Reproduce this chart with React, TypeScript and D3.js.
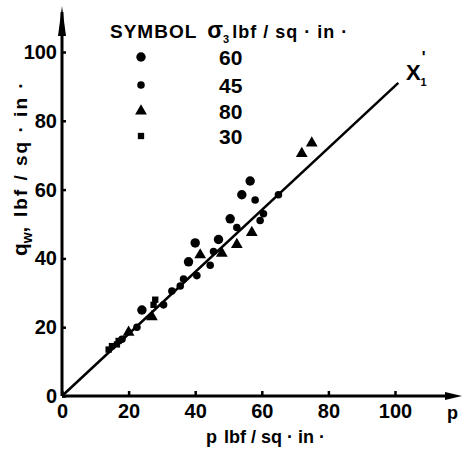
import { useRef, useEffect } from 'react';
import * as d3 from 'd3';

// sigma3 = 60 lbf/sq.in (large dots)
const s60 = [
  [24, 25], [38, 39], [40, 44.5], [47, 45.5], [50.5, 51.5], [54, 58.5], [56.5, 62.5],
];
// sigma3 = 45 (dots along the line)
const s45 = [
  [18, 16.5], [22.5, 20], [30.5, 26.5], [33, 30.5], [35.5, 32], [36.5, 34], [40.5, 35],
  [44.5, 38], [45.5, 42], [52.5, 49], [58, 57], [59.5, 51], [60.5, 53], [65, 58.5],
];
// sigma3 = 80 (triangles)
const s80 = [
  [20, 18.5], [27, 23], [41.5, 41], [48, 41.5], [52.5, 44], [57, 47.5], [72, 70.5], [75, 73.5],
];
// sigma3 = 30 (squares)
const s30 = [
  [14, 13.5], [15, 14.5], [16.5, 15], [17, 16], [27.5, 26.5], [28, 28],
];

const fitLine = [[0, 0], [101, 91]];
const xTicks = [0, 20, 40, 60, 80, 100];
const yTicks = [0, 20, 40, 60, 80, 100];
const legendLabels = ['60', '45', '80', '30'];

const FONT = '"Liberation Sans", Arial, sans-serif';

const App = () => {
  const svgRef = useRef(null);

  useEffect(() => {
    const svg = d3.select(svgRef.current);
    svg.selectAll('*').remove();

    const x = d3.scaleLinear().domain([0, 100]).range([62, 395]);
    const y = d3.scaleLinear().domain([0, 100]).range([396, 52]);

    // axis lines with arrows
    svg.append('line')
      .attr('x1', x(0)).attr('y1', y(0)).attr('x2', x(0)).attr('y2', 12)
      .attr('stroke', '#000').attr('stroke-width', 3);
    svg.append('path')
      .attr('d', `M${x(0) - 4},36 L${x(0)},6 L${x(0) + 4},36 Z`)
      .attr('fill', '#000');
    svg.append('line')
      .attr('x1', x(0)).attr('y1', y(0)).attr('x2', 452).attr('y2', y(0))
      .attr('stroke', '#000').attr('stroke-width', 3);
    svg.append('path')
      .attr('d', `M445,${y(0) - 4} L462,${y(0)} L445,${y(0) + 4} Z`)
      .attr('fill', '#000');

    const xAxis = svg.append('g')
      .attr('transform', `translate(0,${y(0)})`)
      .call(d3.axisBottom(x).tickValues(xTicks).tickSizeInner(-5).tickSizeOuter(0).tickPadding(8));
    xAxis.select('.domain').remove();
    xAxis.selectAll('line').attr('stroke', '#000').attr('stroke-width', 2.5);
    xAxis.selectAll('text')
      .attr('font-family', FONT).attr('font-size', 20).attr('font-weight', 'bold').attr('fill', '#000');

    const yAxis = svg.append('g')
      .attr('transform', `translate(${x(0)},0)`)
      .call(d3.axisLeft(y).tickValues(yTicks).tickSizeInner(-4).tickSizeOuter(0).tickPadding(5));
    yAxis.select('.domain').remove();
    yAxis.selectAll('line').attr('stroke', '#000').attr('stroke-width', 2.5);
    yAxis.selectAll('text')
      .attr('font-family', FONT).attr('font-size', 20).attr('font-weight', 'bold').attr('fill', '#000');

    // fitted line
    svg.append('path')
      .datum(fitLine)
      .attr('fill', 'none')
      .attr('stroke', '#000')
      .attr('stroke-width', 2.5)
      .attr('d', d3.line().x(d => x(d[0])).y(d => y(d[1])));

    const sym = (type, size) => d3.symbol().type(type).size(size)();
    const series = [
      { data: s60, d: sym(d3.symbolCircle, 70) },
      { data: s45, d: sym(d3.symbolCircle, 45) },
      { data: s80, d: sym(d3.symbolTriangle, 60) },
      { data: s30, d: sym(d3.symbolSquare, 40) },
    ];
    series.forEach(s => {
      svg.append('g').selectAll('path')
        .data(s.data)
        .join('path')
        .attr('transform', d => `translate(${x(d[0])},${y(d[1])})`)
        .attr('d', s.d)
        .attr('fill', '#000');
    });

    // X'1 label
    const xl = svg.append('text')
      .attr('x', 406).attr('y', 80)
      .attr('font-family', FONT).attr('font-size', 22).attr('font-weight', 'bold');
    xl.append('tspan').text('X');
    xl.append('tspan').attr('dx', 1).attr('dy', -17).attr('font-size', 16).text("'");
    xl.append('tspan').attr('dx', -5).attr('dy', 23).attr('font-size', 11).text('1');

    // legend
    const header = svg.append('text')
      .attr('x', 110).attr('y', 38)
      .attr('font-family', FONT).attr('font-size', 19).attr('font-weight', 'bold');
    header.append('tspan').attr('letter-spacing', 1).text('SYMBOL');
    header.append('tspan').attr('dx', 10).attr('font-size', 23).text('σ');
    header.append('tspan').attr('dy', 5).attr('font-size', 11).text('3');
    header.append('tspan').attr('dx', 3).attr('dy', -5).attr('font-size', 18)
      .attr('letter-spacing', 1).text('lbf / sq · in ·');

    const legY = [57, 85, 111, 136];
    series.forEach((s, i) => {
      svg.append('path')
        .attr('transform', `translate(141,${legY[i]})`)
        .attr('d', s.d)
        .attr('fill', '#000');
      svg.append('text')
        .attr('x', 219).attr('y', legY[i] + 8)
        .attr('font-family', FONT).attr('font-size', 21).attr('font-weight', 'bold')
        .text(legendLabels[i]);
    });

    // axis titles
    const xt = svg.append('text')
      .attr('x', 206).attr('y', 443)
      .attr('font-family', FONT).attr('font-size', 18).attr('font-weight', 'bold');
    xt.append('tspan').text('p');
    xt.append('tspan').attr('dx', 7).text('lbf / sq · in ·');
    svg.append('text')
      .attr('x', 447).attr('y', 419)
      .attr('font-family', FONT).attr('font-size', 18).attr('font-weight', 'bold')
      .text('p');

    const yt = svg.append('text')
      .attr('transform', 'translate(27,256) rotate(-90)')
      .attr('font-family', FONT).attr('font-size', 19).attr('font-weight', 'bold');
    yt.append('tspan').attr('font-size', 21).text('q');
    yt.append('tspan').attr('dy', 5).attr('font-size', 14).text('w');
    yt.append('tspan').attr('dy', -5).text(',');
    yt.append('tspan').attr('dx', 10).attr('letter-spacing', 2).text('lbf / sq · in ·');
  }, []);

  return (
    <svg
      ref={svgRef}
      width="469"
      height="454"
      style={{ position: 'absolute', left: 0, top: 0, background: '#fff' }}
    ></svg>
  );
};

export default App;
